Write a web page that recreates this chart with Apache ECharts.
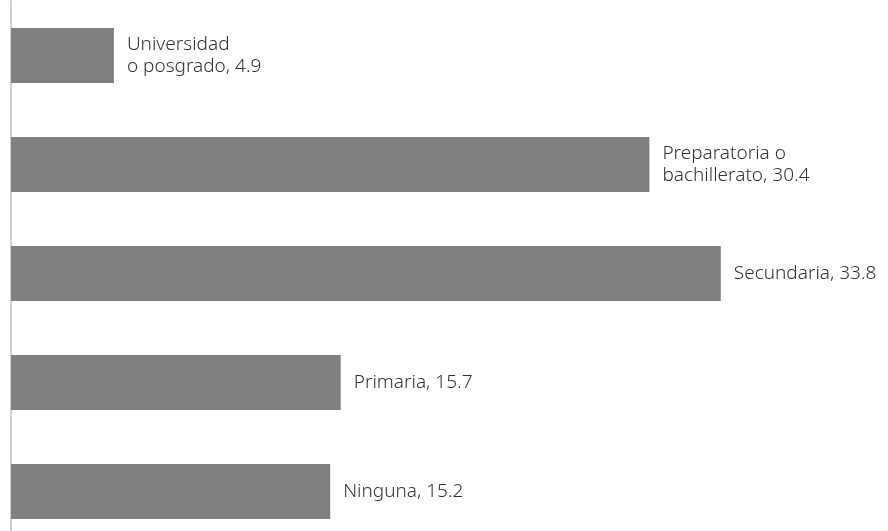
<!DOCTYPE html>
<html lang="es">
<head>
    <meta charset="UTF-8">
    <title>Escolaridad</title>
    <style>
        html, body { margin: 0; padding: 0; background: #fff; }
    </style>
</head>
<body>
<div id="main" style="width: 888px;height:531px;"></div>

<script src="https://cdn.jsdelivr.net/npm/echarts@6/dist/echarts.min.js"></script>
<script>
    // de arriba hacia abajo
    var categorias = ['Universidad\no posgrado', 'Preparatoria o\nbachillerato', 'Secundaria', 'Primaria', 'Ninguna'];
    var valores = [4.9, 30.4, 33.8, 15.7, 15.2];

    var chart = echarts.init(document.getElementById('main'));
    chart.setOption({
        backgroundColor: '#ffffff',
        animation: false,
        grid: {
            left: 11,
            top: 1,
            width: 840,
            height: 545,
            outerBoundsMode: 'none'
        },
        xAxis: {
            type: 'value',
            min: 0,
            max: 40,
            show: false
        },
        yAxis: {
            type: 'category',
            inverse: true,
            data: categorias,
            axisLine: {
                show: true,
                lineStyle: { color: '#d2d2d2', width: 2 }
            },
            axisTick: { show: false },
            axisLabel: { show: false },
            splitLine: { show: false }
        },
        series: [
            {
                name: 'escolaridad',
                type: 'bar',
                barWidth: 55,
                itemStyle: { color: '#808083' },
                label: {
                    show: true,
                    position: 'right',
                    distance: 13,
                    fontFamily: 'Noto Sans',
                    fontWeight: 300,
                    fontSize: 19,
                    lineHeight: 22,
                    color: '#333333',
                    formatter: function (p) {
                        return p.name + ', ' + p.value;
                    }
                },
                data: valores
            }
        ]
    });
</script>
</body>
</html>
